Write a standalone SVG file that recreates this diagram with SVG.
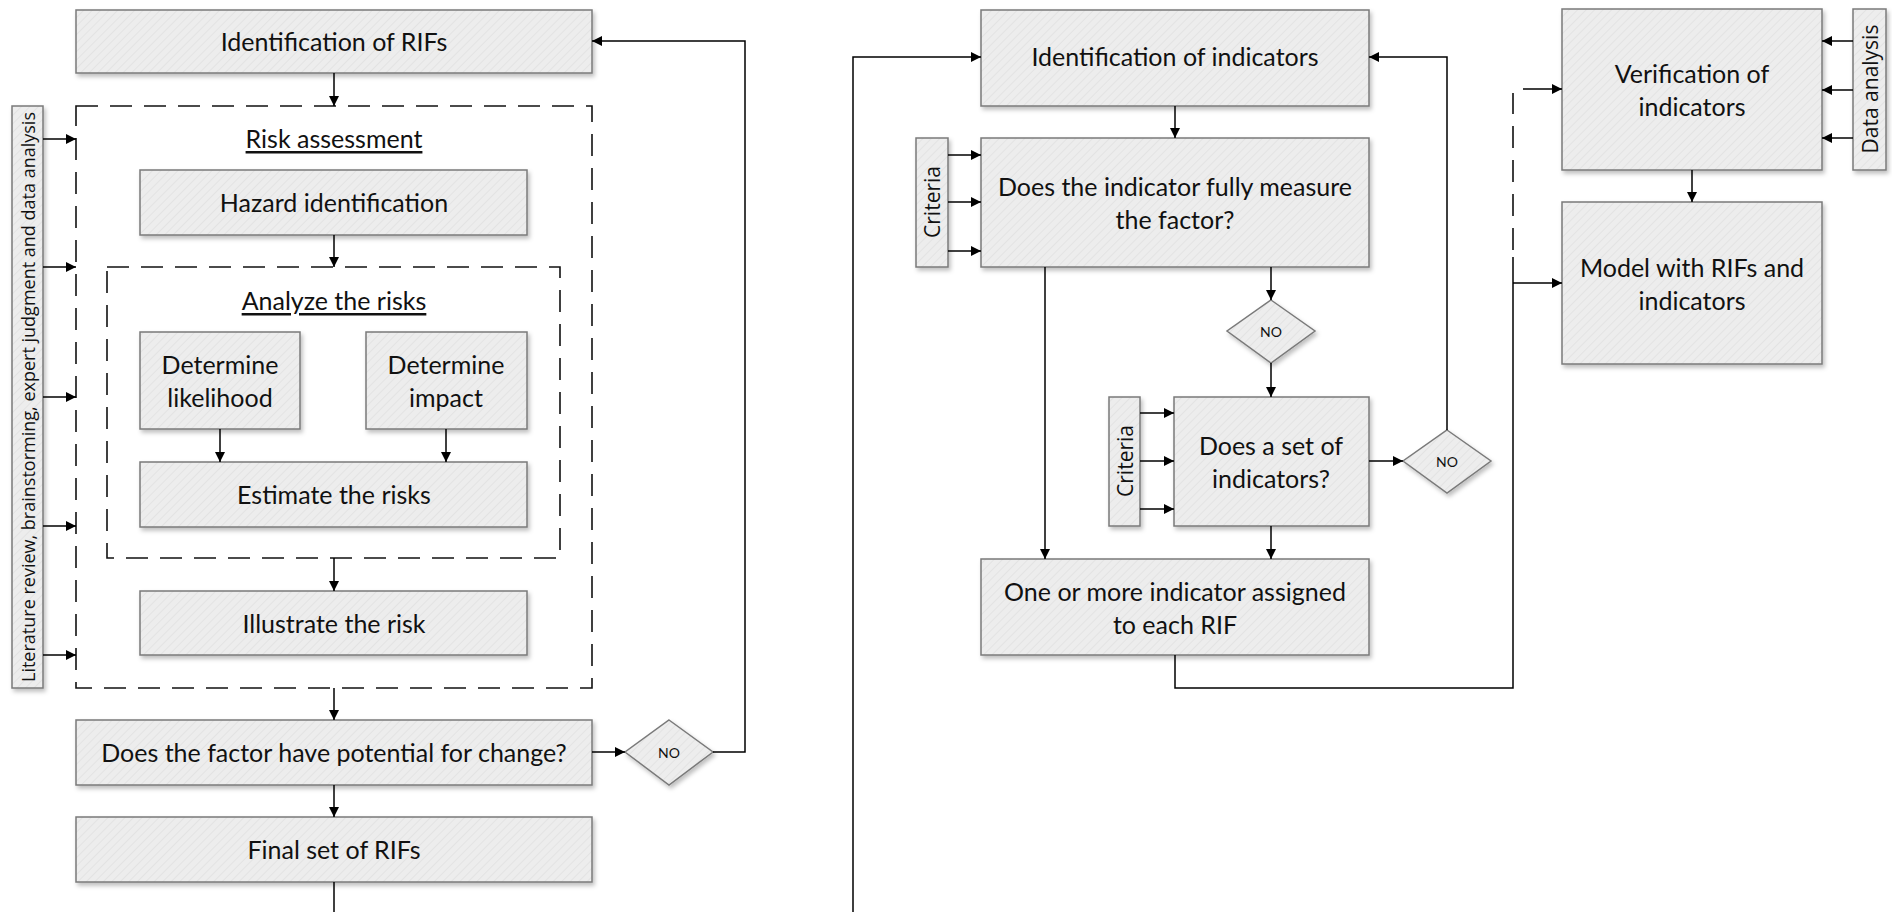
<svg xmlns="http://www.w3.org/2000/svg" width="1892" height="912" viewBox="0 0 1892 912">
<defs>
<pattern id="hatch" width="6" height="6" patternUnits="userSpaceOnUse" patternTransform="rotate(45)">
<rect width="6" height="6" fill="#ededed"/>
<line x1="0" y1="0" x2="0" y2="6" stroke="#e0e0e0" stroke-width="1.5"/>
</pattern>
<filter id="sh" x="-10%" y="-10%" width="130%" height="130%">
<feDropShadow dx="2" dy="3" stdDeviation="2" flood-color="#000" flood-opacity="0.25"/>
</filter>
<marker id="arr" viewBox="0 0 10 10" refX="10" refY="5" markerWidth="10" markerHeight="10" markerUnits="userSpaceOnUse" orient="auto">
<path d="M0,0 L10,5 L0,10 z" fill="#000"/>
</marker>
</defs>
<style>
.box{fill:url(#hatch);stroke:#7a7a7a;stroke-width:1.5;filter:url(#sh)}
.dash{fill:none;stroke:#111;stroke-width:1.6;stroke-dasharray:22 12}
.t{font-family:Lato,"Liberation Sans",sans-serif;font-size:25px;fill:#111;text-anchor:middle;dominant-baseline:central}
.s{font-family:"Open Sans","Liberation Sans",sans-serif;font-size:21px;fill:#111;text-anchor:middle;dominant-baseline:central}
.no{font-family:Lato,"Liberation Sans",sans-serif;font-size:14px;fill:#111;text-anchor:middle;dominant-baseline:central}
.c{fill:none;stroke:#000;stroke-width:1.5}
.a{fill:none;stroke:#000;stroke-width:1.5;marker-end:url(#arr)}
</style>
<rect width="1892" height="912" fill="#fff"/>

<g id="side-input">
<rect class="box" x="12" y="106" width="31" height="582"/>
<text class="s" transform="translate(28,397) rotate(-90)" style="font-size:18px" textLength="570" lengthAdjust="spacingAndGlyphs">Literature review, brainstorming, expert judgment and data analysis</text>
</g>

<g id="risk-assessment">
<rect class="dash" x="76" y="106" width="516" height="582"/>
<text class="t" x="334" y="138" text-decoration="underline">Risk assessment</text>
</g>
<g id="analyze-risks">
<rect class="dash" x="107" y="267" width="453" height="291"/>
<text class="t" x="334" y="300" text-decoration="underline">Analyze the risks</text>
</g>

<g id="identification-rifs"><rect class="box" x="76" y="10" width="516" height="63"/><text class="t" x="334" y="41">Identification of RIFs</text></g>
<g id="hazard"><rect class="box" x="140" y="170" width="387" height="65"/><text class="t" x="334" y="202">Hazard identification</text></g>
<g id="likelihood"><rect class="box" x="140" y="332" width="160" height="97"/><text class="t" x="220" y="364">Determine</text><text class="t" x="220" y="397">likelihood</text></g>
<g id="impact"><rect class="box" x="366" y="332" width="161" height="97"/><text class="t" x="446" y="364">Determine</text><text class="t" x="446" y="397">impact</text></g>
<g id="estimate"><rect class="box" x="140" y="462" width="387" height="65"/><text class="t" x="334" y="494">Estimate the risks</text></g>
<g id="illustrate"><rect class="box" x="140" y="591" width="387" height="64"/><text class="t" x="334" y="623">Illustrate the risk</text></g>
<g id="potential"><rect class="box" x="76" y="720" width="516" height="65"/><text class="t" x="334" y="752">Does the factor have potential for change?</text></g>
<g id="no1"><path class="box" d="M669,720 L713,752 L669,785 L625,752 Z"/><text class="no" x="669" y="752">NO</text></g>
<g id="final-rifs"><rect class="box" x="76" y="817" width="516" height="65"/><text class="t" x="334" y="849">Final set of RIFs</text></g>

<g id="identification-indicators"><rect class="box" x="981" y="10" width="388" height="96"/><text class="t" x="1175" y="56">Identification of indicators</text></g>
<g id="criteria1"><rect class="box" x="916" y="138" width="32" height="129"/><text class="s" transform="translate(932,202) rotate(-90)">Criteria</text></g>
<g id="fully-measure"><rect class="box" x="981" y="138" width="388" height="129"/><text class="t" x="1175" y="186">Does the indicator fully measure</text><text class="t" x="1175" y="219">the factor?</text></g>
<g id="no2"><path class="box" d="M1271,300 L1315,331 L1271,363 L1227,331 Z"/><text class="no" x="1271" y="331">NO</text></g>
<g id="criteria2"><rect class="box" x="1109" y="397" width="31" height="129"/><text class="s" transform="translate(1125,461) rotate(-90)">Criteria</text></g>
<g id="set-indicators"><rect class="box" x="1174" y="397" width="195" height="129"/><text class="t" x="1271" y="445">Does a set of</text><text class="t" x="1271" y="478">indicators?</text></g>
<g id="no3"><path class="box" d="M1447,430 L1491,461 L1447,493 L1403,461 Z"/><text class="no" x="1447" y="461">NO</text></g>
<g id="assigned"><rect class="box" x="981" y="559" width="388" height="96"/><text class="t" x="1175" y="591">One or more indicator assigned</text><text class="t" x="1175" y="624">to each RIF</text></g>

<g id="verification"><rect class="box" x="1562" y="9" width="260" height="161"/><text class="t" x="1692" y="73">Verification of</text><text class="t" x="1692" y="106">indicators</text></g>
<g id="data-analysis"><rect class="box" x="1853" y="9" width="33" height="161"/><text class="s" transform="translate(1870,89) rotate(-90)">Data analysis</text></g>
<g id="model"><rect class="box" x="1562" y="202" width="260" height="162"/><text class="t" x="1692" y="267">Model with RIFs and</text><text class="t" x="1692" y="300">indicators</text></g>

<g id="connectors">
<path class="a" d="M43,139 H76"/>
<path class="a" d="M43,267 H76"/>
<path class="a" d="M43,397 H76"/>
<path class="a" d="M43,526 H76"/>
<path class="a" d="M43,655 H76"/>
<path class="a" d="M334,73 V106"/>
<path class="a" d="M334,235 V267"/>
<path class="a" d="M220,429 V462"/>
<path class="a" d="M446,429 V462"/>
<path class="a" d="M334,558 V591"/>
<path class="a" d="M334,688 V720"/>
<path class="a" d="M592,752 H625"/>
<path class="a" d="M713,752 H745 V41 H592"/>
<path class="a" d="M334,785 V817"/>
<path class="c" d="M334,882 V912"/>
<path class="a" d="M853,912 V57 H981"/>
<path class="a" d="M1175,106 V138"/>
<path class="a" d="M948,155 H981"/>
<path class="a" d="M948,202 H981"/>
<path class="a" d="M948,251 H981"/>
<path class="a" d="M1045,267 V559"/>
<path class="a" d="M1271,267 V300"/>
<path class="a" d="M1271,363 V397"/>
<path class="a" d="M1140,413 H1174"/>
<path class="a" d="M1140,461 H1174"/>
<path class="a" d="M1140,509 H1174"/>
<path class="a" d="M1369,461 H1403"/>
<path class="a" d="M1447,430 V57 H1369"/>
<path class="a" d="M1271,526 V559"/>
<path class="c" d="M1175,655 V688 H1513 V257"/>
<path class="c" d="M1513,250 V93" stroke-dasharray="22 12"/>
<path class="a" d="M1523,89 H1562"/>
<path class="a" d="M1513,283 H1562"/>
<path class="a" d="M1692,170 V202"/>
<path class="a" d="M1853,41 H1822"/>
<path class="a" d="M1853,90 H1822"/>
<path class="a" d="M1853,138 H1822"/>
</g>
</svg>
